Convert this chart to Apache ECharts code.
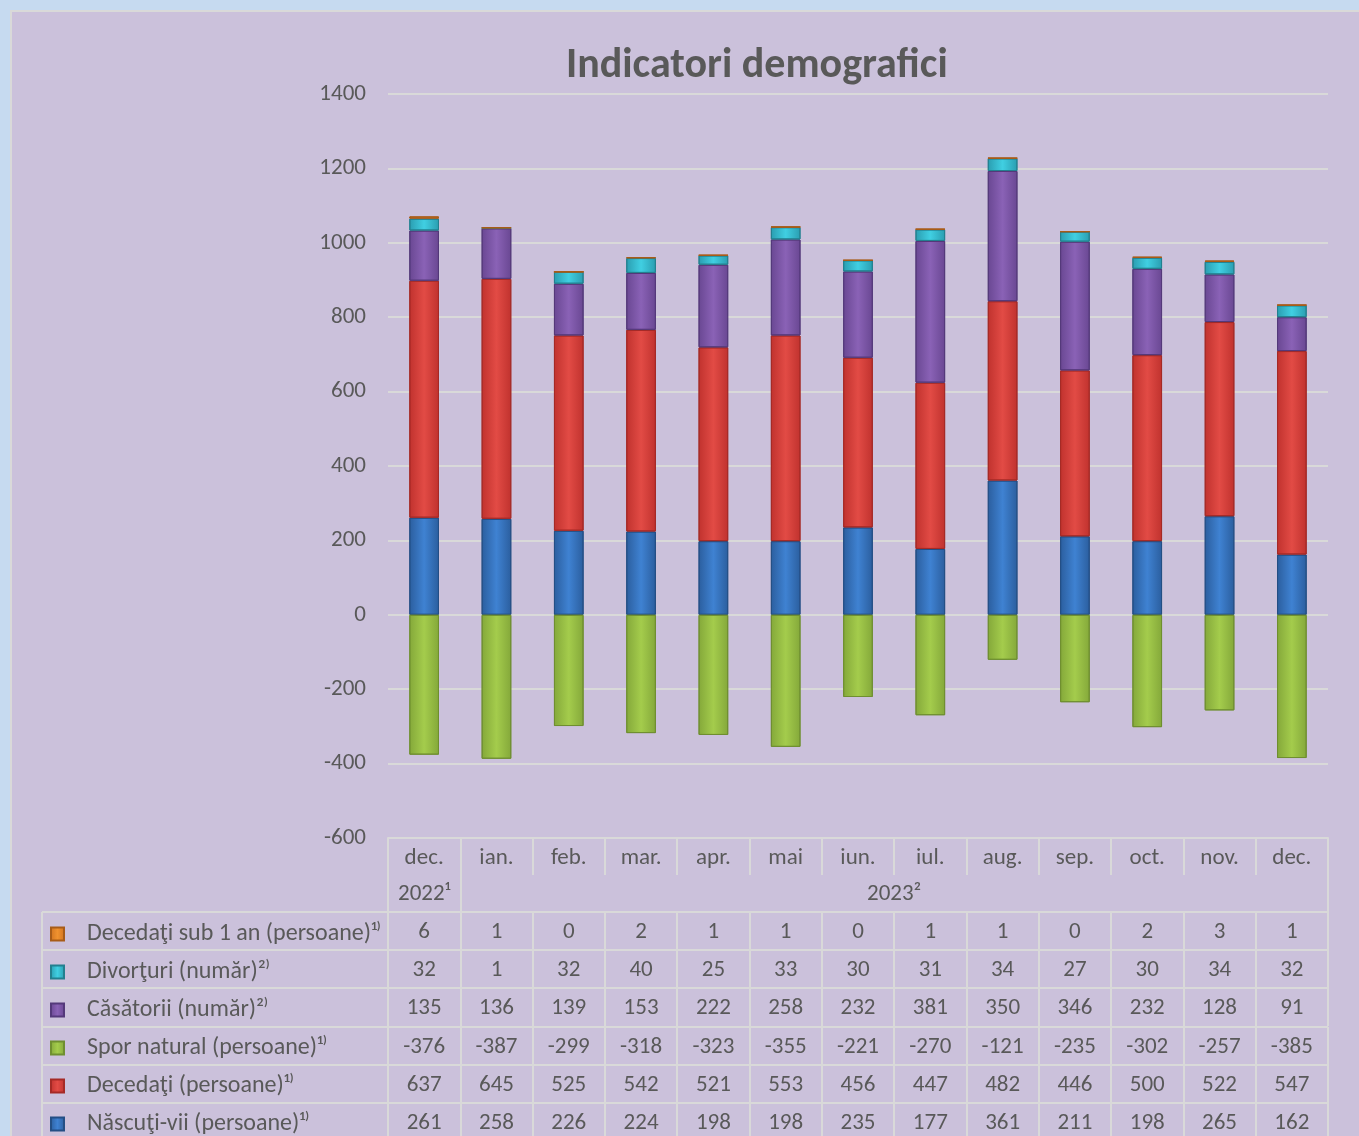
<!DOCTYPE html>
<html>
<head>
<meta charset="utf-8">
<title>Indicatori demografici</title>
<script src="https://cdn.jsdelivr.net/npm/echarts@6/dist/echarts.min.js"></script>
<style>
  html, body { margin: 0; padding: 0; background: #c6daf0; }
  #chart { width: 1359px; height: 1136px; }
</style>
</head>
<body>
<div id="chart"></div>
<script>
// date (din tabel)
var luni = ['dec.', 'ian.', 'feb.', 'mar.', 'apr.', 'mai', 'iun.', 'iul.', 'aug.', 'sep.', 'oct.', 'nov.', 'dec.'];
var anPrim = '2022¹';
var anRest = '2023²';
var yTicks = [-600, 1400, 200]; // min, max, pas

var decedatiSub1 = [6, 1, 0, 2, 1, 1, 0, 1, 1, 0, 2, 3, 1];
var divorturi = [32, 1, 32, 40, 25, 33, 30, 31, 34, 27, 30, 34, 32];
var casatorii = [135, 136, 139, 153, 222, 258, 232, 381, 350, 346, 232, 128, 91];
var sporNatural = [-376, -387, -299, -318, -323, -355, -221, -270, -121, -235, -302, -257, -385];
var decedati = [637, 645, 525, 542, 521, 553, 456, 447, 482, 446, 500, 522, 547];
var nascuti = [261, 258, 226, 224, 198, 198, 235, 177, 361, 211, 198, 265, 162];

var nume = {
  sub1: 'Decedaţi sub 1 an (persoane)¹⁾',
  div: 'Divorţuri (număr)²⁾',
  cas: 'Căsătorii (număr)²⁾',
  spor: 'Spor natural (persoane)¹⁾',
  dec: 'Decedaţi (persoane)¹⁾',
  nas: 'Născuţi-vii (persoane)¹⁾'
};

var font = 'Carlito, Lato, sans-serif';
var fs = 23;
var grey = '#595959';
var lineCol = '#d9d9d9';

// gradient "bevel" pe orizontala
function bev(dark, light) {
  return {
    type: 'linear', x: 0, y: 0, x2: 1, y2: 0,
    colorStops: [
      { offset: 0, color: dark },
      { offset: 0.5, color: light },
      { offset: 1, color: dark }
    ]
  };
}

function bara(name, data, dark, light, border) {
  return {
    name: name,
    type: 'bar',
    stack: 'total',
    data: data,
    barWidth: '41%',
    itemStyle: { color: bev(dark, light), borderColor: border, borderWidth: 1 }
  };
}

var myChart = echarts.init(document.getElementById('chart'));

// randurile tabelului = axe x suplimentare
var randuri = [
  { arr: decedatiSub1, off: 74 },
  { arr: divorturi, off: 112 },
  { arr: casatorii, off: 150 },
  { arr: sporNatural, off: 189 },
  { arr: decedati, off: 227 },
  { arr: nascuti, off: 265 }
];

var xAxes = [
  {
    type: 'category',
    data: luni,
    position: 'bottom',
    axisLine: { onZero: false, show: true, lineStyle: { color: lineCol, width: 2 } },
    axisTick: { show: true, interval: 0, length: 37, lineStyle: { color: lineCol, width: 2 } },
    axisLabel: { interval: 0, fontSize: fs, color: grey, fontFamily: font, margin: 9 }
  },
  {
    type: 'category',
    data: luni,
    position: 'bottom',
    offset: 37,
    axisLine: { show: false, onZero: false },
    axisTick: {
      show: true, length: 37, lineStyle: { color: lineCol, width: 2 },
      interval: function (i) { return i <= 1; }
    },
    axisLabel: {
      interval: 0, fontSize: fs, color: grey, fontFamily: font, margin: 8,
      formatter: function (v, i) { return i === 0 ? anPrim : ''; }
    }
  }
];

randuri.forEach(function (r) {
  xAxes.push({
    type: 'category',
    data: luni,
    position: 'bottom',
    offset: r.off,
    axisLine: { show: false, onZero: false },
    axisTick: { show: true, interval: 0, length: 38, lineStyle: { color: lineCol, width: 2 } },
    axisLabel: {
      interval: 0, fontSize: fs, color: grey, fontFamily: font, margin: 9,
      formatter: function (v, i) { return String(r.arr[i]); }
    }
  });
});

// linii orizontale ale tabelului (inclusiv coloana cu legenda)
var graf = [
  { type: 'rect', shape: { x: 0, y: 0, width: 1359, height: 10 }, style: { fill: '#c6daf0' } },
  { type: 'rect', shape: { x: 0, y: 0, width: 10, height: 1136 }, style: { fill: '#c6daf0' } },
  { type: 'line', shape: { x1: 10, y1: 11, x2: 1359, y2: 11 }, style: { stroke: lineCol, lineWidth: 2 } },
  { type: 'line', shape: { x1: 11, y1: 10, x2: 11, y2: 1136 }, style: { stroke: lineCol, lineWidth: 2 } },
  { type: 'line', shape: { x1: 42, y1: 912, x2: 42, y2: 1136 }, style: { stroke: lineCol, lineWidth: 2 } }
];
randuri.forEach(function (r) {
  graf.push({ type: 'line', shape: { x1: 42, y1: 838 + r.off, x2: 1328, y2: 838 + r.off }, style: { stroke: lineCol, lineWidth: 2 } });
});

var option = {
  backgroundColor: '#cbc1db',
  animation: false,
  title: {
    text: 'Indicatori demografici',
    left: 561,
    top: 40,
    textStyle: { fontSize: 42, fontWeight: 'bold', color: grey, fontFamily: font }
  },
  legend: {
    orient: 'vertical',
    left: 50,
    top: 922,
    padding: 0,
    itemWidth: 13,
    itemHeight: 13,
    itemGap: 14,
    icon: 'rect',
    data: [nume.sub1, nume.div, nume.cas, nume.spor, nume.dec, nume.nas],
    textStyle: { fontSize: 24, lineHeight: 24, color: grey, fontFamily: font, padding: [0, 0, 0, 18] }
  },
  grid: { left: 388, right: 31, top: 94, bottom: 298, containLabel: false },
  xAxis: xAxes,
  yAxis: {
    type: 'value',
    min: yTicks[0],
    max: yTicks[1],
    interval: yTicks[2],
    axisLine: { show: false },
    axisTick: { show: false },
    axisLabel: { fontSize: fs, color: grey, fontFamily: font, margin: 22, formatter: function (v) { return String(v); } },
    splitLine: { lineStyle: { color: lineCol, width: 2 } }
  },
  graphic: graf,
  series: [
    bara(nume.nas, nascuti, '#2b5e9e', '#3f82d2', '#244f85'),
    bara(nume.dec, decedati, '#c0322e', '#e24b45', '#a52a26'),
    bara(nume.spor, sporNatural, '#84a83a', '#a4cc4c', '#6f8f30'),
    bara(nume.cas, casatorii, '#694792', '#8a62b6', '#54397a'),
    bara(nume.div, divorturi, '#2a9db0', '#40cfe2', '#23808f'),
    bara(nume.sub1, decedatiSub1, '#d0731f', '#f0922f', '#a85c18')
  ]
};

myChart.setOption(option);

// eticheta "2023²" centrata peste coloanele ian.-dec.
var xa = myChart.convertToPixel({ xAxisIndex: 0 }, 1);
var xb = myChart.convertToPixel({ xAxisIndex: 0 }, 12);
graf.push({
  type: 'text',
  x: (xa + xb) / 2,
  y: 894,
  style: { text: anRest, fontSize: fs, fill: grey, fontFamily: font, align: 'center', verticalAlign: 'middle' }
});
myChart.setOption({ graphic: graf });
</script>
</body>
</html>
